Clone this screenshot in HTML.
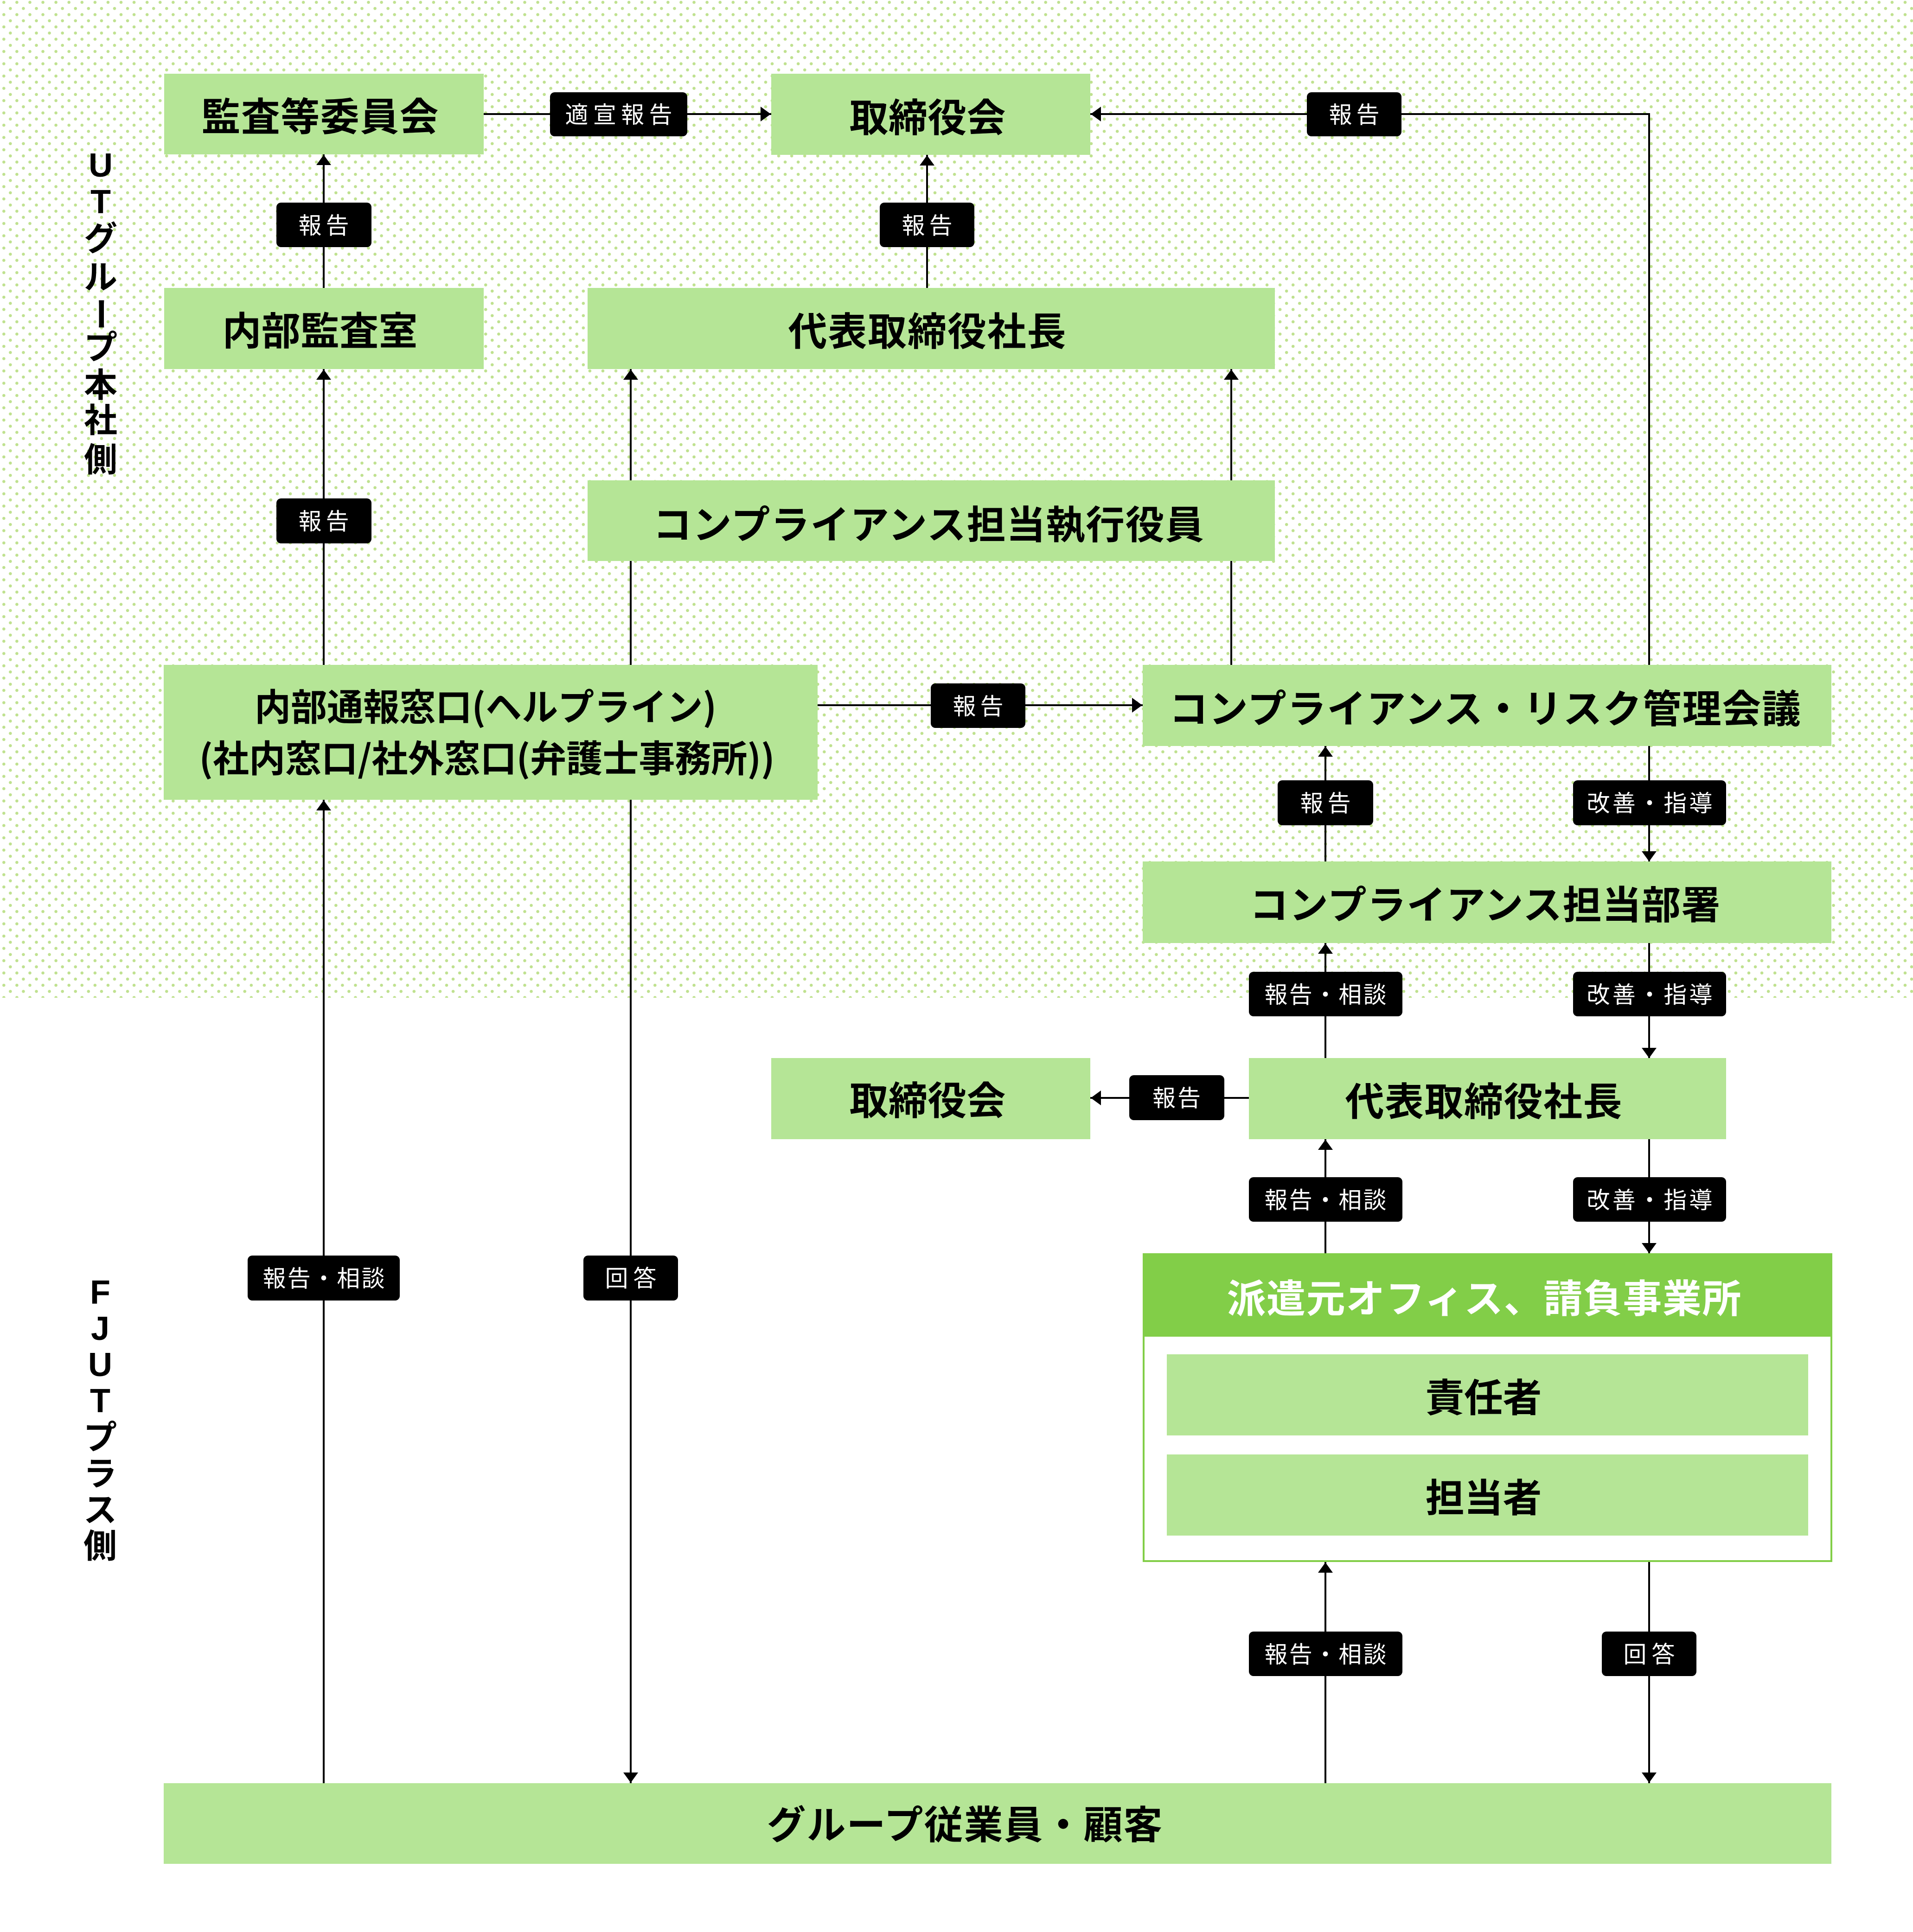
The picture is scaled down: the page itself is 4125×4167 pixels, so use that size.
<!DOCTYPE html>
<html lang="ja">
<head>
<meta charset="utf-8">
<style>
html,body{margin:0;padding:0;background:#fff;}
svg{display:block;}
text{font-family:"Liberation Sans","Noto Sans CJK JP",sans-serif;}
.bt{font-size:84px;font-weight:700;fill:#000;text-anchor:middle;}
.cj{font-family:"Noto Sans CJK JP",sans-serif;}
.lb{font-size:50px;font-weight:400;fill:#fff;text-anchor:middle;}
.vt{font-size:72px;font-weight:700;fill:#000;text-anchor:middle;}
</style>
</head>
<body>
<svg width="4125" height="4167" viewBox="0 0 4125 4167" xmlns="http://www.w3.org/2000/svg">
<defs>
<pattern id="dots" patternUnits="userSpaceOnUse" width="28.08" height="26.5">
<circle cx="8.3" cy="5" r="3.3" fill="#bfe18f"/>
<circle cx="22.34" cy="18.25" r="3.3" fill="#bfe18f"/>
</pattern>
</defs>
<rect x="0" y="0" width="4125" height="4167" fill="#fff"/>
<rect x="0" y="0" width="4125" height="2152" fill="url(#dots)"/>

<!-- connector lines -->
<g stroke="#000" stroke-width="4" fill="none">
<line x1="698" y1="333" x2="698" y2="3846"/>
<line x1="1999" y1="334" x2="1999" y2="621"/>
<line x1="1360" y1="796" x2="1360" y2="3846"/>
<line x1="2655" y1="796" x2="2655" y2="1434"/>
<line x1="1043" y1="246" x2="1663" y2="246"/>
<polyline points="2351,246 3556,246 3556,3846"/>
<line x1="1763" y1="1521" x2="2464" y2="1521"/>
<line x1="2858" y1="1609" x2="2858" y2="3846"/>
<line x1="2351" y1="2368" x2="2693" y2="2368"/>
</g>

<!-- arrowheads -->
<g fill="#000">
<polygon points="698,334 682,356 714,356"/>
<polygon points="698,797 682,819 714,819"/>
<polygon points="698,1726 682,1748 714,1748"/>
<polygon points="1999,335 1983,357 2015,357"/>
<polygon points="1360,797 1344,819 1376,819"/>
<polygon points="2655,797 2639,819 2671,819"/>
<polygon points="1662,246 1640,230 1640,262"/>
<polygon points="2352,246 2374,230 2374,262"/>
<polygon points="1360,3845 1344,3823 1376,3823"/>
<polygon points="2463,1521 2441,1505 2441,1537"/>
<polygon points="2858,1610 2842,1632 2874,1632"/>
<polygon points="2858,2035 2842,2057 2874,2057"/>
<polygon points="2858,2458 2842,2480 2874,2480"/>
<polygon points="2858,3370 2842,3392 2874,3392"/>
<polygon points="3556,1858 3540,1836 3572,1836"/>
<polygon points="3556,2282 3540,2260 3572,2260"/>
<polygon points="3556,2703 3540,2681 3572,2681"/>
<polygon points="3556,3845 3540,3823 3572,3823"/>
<polygon points="2352,2368 2374,2352 2374,2384"/>
</g>

<!-- boxes -->
<g fill="#b5e596">
<rect x="354" y="159" width="689" height="174"/>
<rect x="1663" y="159" width="688" height="175"/>
<rect x="354" y="621" width="689" height="175"/>
<rect x="1267" y="621" width="1482" height="175"/>
<rect x="1267" y="1036" width="1482" height="174"/>
<rect x="353" y="1434" width="1410" height="291"/>
<rect x="2464" y="1434" width="1485" height="175"/>
<rect x="2464" y="1858" width="1485" height="176"/>
<rect x="1663" y="2282" width="688" height="175"/>
<rect x="2693" y="2282" width="1029" height="175"/>
<rect x="353" y="3846" width="3596" height="174"/>
</g>
<rect x="2466" y="2705" width="1483" height="662" fill="#fff" stroke="#82ce48" stroke-width="4"/>
<rect x="2464" y="2703" width="1487" height="180" fill="#82ce48"/>
<rect x="2516" y="2921" width="1383" height="175" fill="#b5e596"/>
<rect x="2516" y="3137" width="1383" height="175" fill="#b5e596"/>

<!-- box texts -->
<text class="bt" x="690" y="282" textLength="511" lengthAdjust="spacing">監査等委員会</text>
<text class="bt" x="2000" y="284" textLength="337" lengthAdjust="spacing">取締役会</text>
<text class="bt" x="690" y="744" textLength="421" lengthAdjust="spacing">内部監査室</text>
<text class="bt" x="1999" y="745" textLength="599" lengthAdjust="spacing">代表取締役社長</text>
<text class="bt" x="2002" y="1162" textLength="1188" lengthAdjust="spacing">コンプライアンス担当執行役員</text>
<text class="bt cj" style="font-size:80px" x="1047" y="1554" textLength="996" lengthAdjust="spacingAndGlyphs">内部通報窓口(ヘルプライン)</text>
<text class="bt cj" style="font-size:80px" x="1050" y="1665" textLength="1241" lengthAdjust="spacingAndGlyphs">(社内窓口/社外窓口(弁護士事務所))</text>
<text class="bt" x="3202" y="1559" textLength="1362" lengthAdjust="spacing">コンプライアンス・リスク管理会議</text>
<text class="bt" x="3202" y="1982" textLength="1015" lengthAdjust="spacing">コンプライアンス担当部署</text>
<text class="bt" x="3199" y="2406" textLength="597" lengthAdjust="spacing">代表取締役社長</text>
<text class="bt" x="2000" y="2404" textLength="337" lengthAdjust="spacing">取締役会</text>
<text class="bt" style="fill:#fff" x="3200" y="2831" textLength="1109" lengthAdjust="spacing">派遣元オフィス、請負事業所</text>
<text class="bt" x="3199" y="3045" textLength="251" lengthAdjust="spacing">責任者</text>
<text class="bt" x="3199" y="3261" textLength="251" lengthAdjust="spacing">担当者</text>
<text class="bt" x="2080" y="3966" textLength="853" lengthAdjust="spacing">グループ従業員・顧客</text>

<!-- labels -->
<g fill="#000">
<rect x="1186" y="199" width="296" height="95" rx="10"/>
<rect x="2818" y="199" width="204" height="95" rx="10"/>
<rect x="596" y="437" width="205" height="96" rx="10"/>
<rect x="1897" y="437" width="204" height="96" rx="10"/>
<rect x="596" y="1075" width="205" height="97" rx="10"/>
<rect x="2007" y="1474" width="204" height="96" rx="10"/>
<rect x="2755" y="1683" width="206" height="97" rx="10"/>
<rect x="3392" y="1683" width="330" height="97" rx="10"/>
<rect x="2693" y="2096" width="331" height="96" rx="10"/>
<rect x="3392" y="2096" width="330" height="96" rx="10"/>
<rect x="2435" y="2319" width="205" height="97" rx="10"/>
<rect x="2693" y="2539" width="331" height="96" rx="10"/>
<rect x="3392" y="2539" width="330" height="96" rx="10"/>
<rect x="534" y="2708" width="328" height="97" rx="10"/>
<rect x="1258" y="2708" width="204" height="97" rx="10"/>
<rect x="2693" y="3519" width="331" height="96" rx="10"/>
<rect x="3454" y="3519" width="204" height="96" rx="10"/>
</g>
<text class="lb" x="1334" y="265" textLength="231" lengthAdjust="spacing">適宣報告</text>
<text class="lb" x="2920" y="265" textLength="109" lengthAdjust="spacing">報告</text>
<text class="lb" x="698" y="504" textLength="109" lengthAdjust="spacing">報告</text>
<text class="lb" x="1999" y="504" textLength="109" lengthAdjust="spacing">報告</text>
<text class="lb" x="698" y="1142" textLength="109" lengthAdjust="spacing">報告</text>
<text class="lb" x="2109" y="1541" textLength="109" lengthAdjust="spacing">報告</text>
<text class="lb" x="2858" y="1750" textLength="109" lengthAdjust="spacing">報告</text>
<text class="lb" x="3557" y="1750" textLength="271" lengthAdjust="spacing">改善・指導</text>
<text class="lb" x="2858" y="2163" textLength="263" lengthAdjust="spacing">報告・相談</text>
<text class="lb" x="3557" y="2163" textLength="271" lengthAdjust="spacing">改善・指導</text>
<text class="lb" x="2537" y="2386" textLength="104" lengthAdjust="spacing">報告</text>
<text class="lb" x="2858" y="2606" textLength="263" lengthAdjust="spacing">報告・相談</text>
<text class="lb" x="3557" y="2606" textLength="271" lengthAdjust="spacing">改善・指導</text>
<text class="lb" x="698" y="2775" textLength="263" lengthAdjust="spacing">報告・相談</text>
<text class="lb" x="1360" y="2775" textLength="111" lengthAdjust="spacing">回答</text>
<text class="lb" x="2858" y="3586" textLength="263" lengthAdjust="spacing">報告・相談</text>
<text class="lb" x="3556" y="3586" textLength="111" lengthAdjust="spacing">回答</text>

<!-- vertical side labels -->
<text class="vt" x="217" y="381">U</text>
<text class="vt" x="217" y="460">T</text>
<text class="vt" x="217" y="540">グ</text>
<text class="vt" x="217" y="623">ル</text>
<text class="vt" x="217" y="703" transform="rotate(90 217 677)">ー</text>
<text class="vt" x="217" y="775">プ</text>
<text class="vt" x="217" y="856">本</text>
<text class="vt" x="217" y="932">社</text>
<text class="vt" x="217" y="1017">側</text>

<text class="vt" x="216" y="2812">F</text>
<text class="vt" x="216" y="2890">J</text>
<text class="vt" x="216" y="2968">U</text>
<text class="vt" x="216" y="3046">T</text>
<text class="vt" x="216" y="3126">プ</text>
<text class="vt" x="216" y="3204">ラ</text>
<text class="vt" x="216" y="3282">ス</text>
<text class="vt" x="216" y="3360">側</text>
</svg>
</body>
</html>
